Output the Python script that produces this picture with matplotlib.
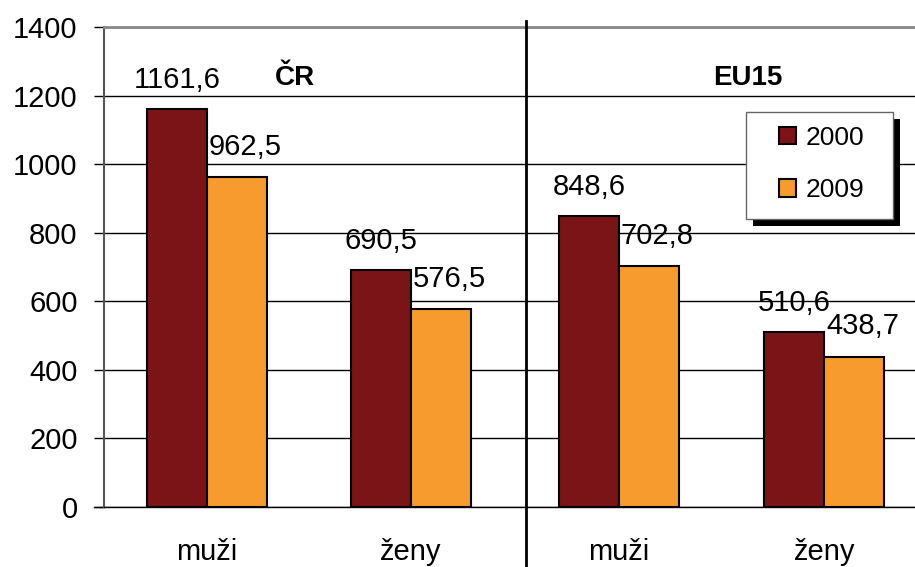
import numpy as np
import matplotlib.pyplot as plt
from matplotlib.patches import Rectangle

plt.rcParams['font.family'] = ['Liberation Sans', 'DejaVu Sans']

categories = ['muži', 'ženy', 'muži', 'ženy']
vals_2000 = [1161.6, 690.5, 848.6, 510.6]
vals_2009 = [962.5, 576.5, 702.8, 438.7]
labels_2000 = ['1161,6', '690,5', '848,6', '510,6']
labels_2009 = ['962,5', '576,5', '702,8', '438,7']
regions = ['ČR', 'EU15']

c2000 = '#7b1416'
c2009 = '#f89b2f'

xpos = np.array([0, 1, 2.02, 3.025])
w = 0.294

W, H = 915, 567
fig = plt.figure(figsize=(W / 100, H / 100), dpi=100)
ax = fig.add_axes([104 / W, 60 / H, 811 / W, 480 / H])

ax.set_ylim(0, 1400)
ax.set_xlim(-0.505, 3.47)
ax.set_yticks(range(0, 1401, 200))
ax.yaxis.grid(True, color='black', linewidth=1)
ax.set_axisbelow(True)

b1 = ax.bar(xpos - w / 2, vals_2000, w, color=c2000, edgecolor='black', linewidth=1.5, label='2000', zorder=3)
b2 = ax.bar(xpos + w / 2, vals_2009, w, color=c2009, edgecolor='black', linewidth=1.5, label='2009', zorder=3)

for x, v, t in zip(xpos, vals_2000, labels_2000):
    ax.annotate(t, (x - w / 2, v), xytext=(0, 15), textcoords='offset points',
                ha='center', va='baseline', fontsize=21)
for x, v, t in zip(xpos, vals_2009, labels_2009):
    ax.annotate(t, (x + w / 2, v), xytext=(6, 16), textcoords='offset points',
                ha='center', va='baseline', fontsize=21)

ax.text(0.43, 1232, regions[0], fontsize=20, fontweight='bold', ha='center', va='baseline')
ax.text(2.65, 1232, regions[1], fontsize=20, fontweight='bold', ha='center', va='baseline')

# divider between CR and EU15
ax.plot([1.565, 1.565], [1417, -200], color='black', linewidth=2, clip_on=False, zorder=4)

ax.set_xticks(xpos)
ax.set_xticklabels(categories, fontsize=21)
ax.tick_params(axis='x', length=0, pad=22)
ax.tick_params(axis='y', labelsize=21, length=7, width=1, pad=12, color='black')

ax.spines['right'].set_visible(False)
ax.spines['top'].set_color('#888888')
ax.spines['top'].set_linewidth(2)
ax.spines['left'].set_color('#555555')
ax.spines['left'].set_linewidth(1.5)
ax.spines['bottom'].set_color('black')
ax.spines['bottom'].set_linewidth(1)
ax.plot([-0.555, -0.505], [0, 0], color='black', linewidth=1, clip_on=False)

# legend box with hard black shadow (pixel coords, y from top)
x0, x1, ytop, ybot = 746, 893, 112, 219
fig.add_artist(Rectangle((x0 + 7, H - ybot - 7), x1 - x0, ybot - ytop, transform=None,
                         facecolor='black', edgecolor='none', zorder=8))
fig.add_artist(Rectangle((x0, H - ybot), x1 - x0, ybot - ytop, transform=None,
                         facecolor='white', edgecolor='#666666', linewidth=1, zorder=9))
leg = fig.legend(handles=[b1, b2], loc='center',
                 bbox_to_anchor=(822 / W, 1 - 164 / H),
                 fontsize=19, frameon=False,
                 handlelength=0.64, handleheight=0.64,
                 handletextpad=0.38, labelspacing=1.08, borderpad=0)
leg.set_zorder(10)

fig.savefig('out.png', dpi=100)
